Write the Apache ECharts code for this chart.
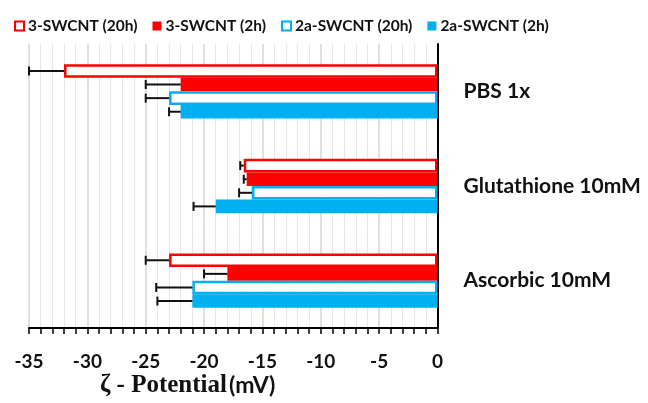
<!DOCTYPE html>
<html><head><meta charset="utf-8">
<script src="https://cdn.jsdelivr.net/npm/echarts@6/dist/echarts.min.js"></script>
<style>html,body{margin:0;padding:0;background:#fff}#c{width:648px;height:403px}</style>
</head><body><div id="c"></div>
<script>
const categories = ['PBS 1x', 'Glutathione 10mM', 'Ascorbic 10mM'];
const seriesNames = ['3-SWCNT (20h)', '3-SWCNT (2h)', '2a-SWCNT (20h)', '2a-SWCNT (2h)'];
const s3_20h = [-32, -16.6, -23];
const s3_2h = [-22, -16.35, -18];
const s2a_20h = [-23, -15.9, -21];
const s2a_2h = [-22, -19, -21];
const e3_20h = [3, 0.3, 2];
const e3_2h = [3, 0.25, 2];
const e2a_20h = [2, 1.1, 3.1];
const e2a_2h = [1, 1.9, 3];
const xTicks = [-35, -30, -25, -20, -15, -10, -5, 0];

const RED = '#ff0000', BLUE = '#00b0f0';
const values = [s3_20h, s3_2h, s2a_20h, s2a_2h];
const errs = [e3_20h, e3_2h, e2a_20h, e2a_2h];
const hollow = [true, false, true, false];
const colors = [RED, RED, BLUE, BLUE];
const BW = 13.6;

const chart = echarts.init(document.getElementById('c'));
const series = [];
values.forEach((v, i) => {
  series.push({
    name: seriesNames[i], type: 'bar', data: v, barWidth: BW, barGap: '0%',
    itemStyle: hollow[i] ? {color: '#fff', borderColor: colors[i], borderWidth: 2.5} : {color: colors[i]},
    z: 2
  });
});
values.forEach((v, i) => {
  series.push({
    type: 'custom', silent: true, z: 5,
    data: v.map((val, k) => [val, k, errs[i][k]]),
    encode: {x: 0, y: 1},
    renderItem: function (params, api) {
      const val = api.value(0), k = api.value(1), e = api.value(2);
      const p0 = api.coord([val, k]);
      const p1 = api.coord([val - e, k]);
      const y = p0[1] - 2 * BW + BW * (i + 0.5);
      const st = {stroke: '#111', lineWidth: 2};
      return {type: 'group', children: [
        {type: 'line', shape: {x1: p0[0], y1: y, x2: p1[0], y2: y}, style: st},
        {type: 'line', shape: {x1: p1[0], y1: y - 4.5, x2: p1[0], y2: y + 4.5}, style: st}
      ]};
    }
  });
});

chart.setOption({
  animation: false,
  grid: {left: 29, right: 210.5, top: 44, bottom: 75},
  legend: {
    top: 13, left: 9, itemWidth: 9, itemHeight: 9, itemGap: 15,
    data: seriesNames.map((n, i) => ({name: n, icon: 'rect',
      itemStyle: hollow[i] ? {color: '#fff', borderColor: colors[i], borderWidth: 2} : {color: colors[i], borderWidth: 0}})),
    textStyle: {fontFamily: 'Lato', fontWeight: 'bold', fontSize: 15.5, color: '#111', padding: [0, 0, 0, -1]}
  },
  xAxis: {
    type: 'value', min: -35, max: 0, interval: 5,
    axisLine: {show: true, onZero: false, lineStyle: {color: '#000', width: 2}},
    axisTick: {show: true, length: 6, lineStyle: {color: '#000', width: 1.5}},
    minorTick: {show: true, splitNumber: 5, length: 6, lineStyle: {color: '#000', width: 1.5}},
    splitLine: {show: true, lineStyle: {color: '#d6d6d6', width: 1.5}},
    minorSplitLine: {show: true, lineStyle: {color: '#e8e8e8', width: 1}},
    axisLabel: {margin: 24, fontFamily: 'Lato', fontWeight: 'bold', fontSize: 19, color: '#111',
      formatter: v => xTicks.includes(v) ? String(v) : ''}
  },
  yAxis: {
    type: 'category', data: categories, inverse: true, position: 'right',
    axisLine: {show: true, lineStyle: {color: '#000', width: 2}},
    axisTick: {show: false},
    axisLabel: {margin: 26, fontFamily: 'Lato', fontWeight: 'bold', fontSize: 21, color: '#111', align: 'left'}
  },
  graphic: [{
    type: 'text', left: 100, top: 373,
    style: {
      text: '{a|ζ - Potential}{b|(mV)}',
      rich: {
        a: {fontFamily: 'Liberation Serif', fontWeight: 'bold', fontSize: 25, fill: '#111'},
        b: {fontFamily: 'Lato', fontWeight: 'bold', fontSize: 23, fill: '#111', padding: [0, 0, 0, 2]}
      }
    }
  }],
  series: series
});
</script></body></html>
